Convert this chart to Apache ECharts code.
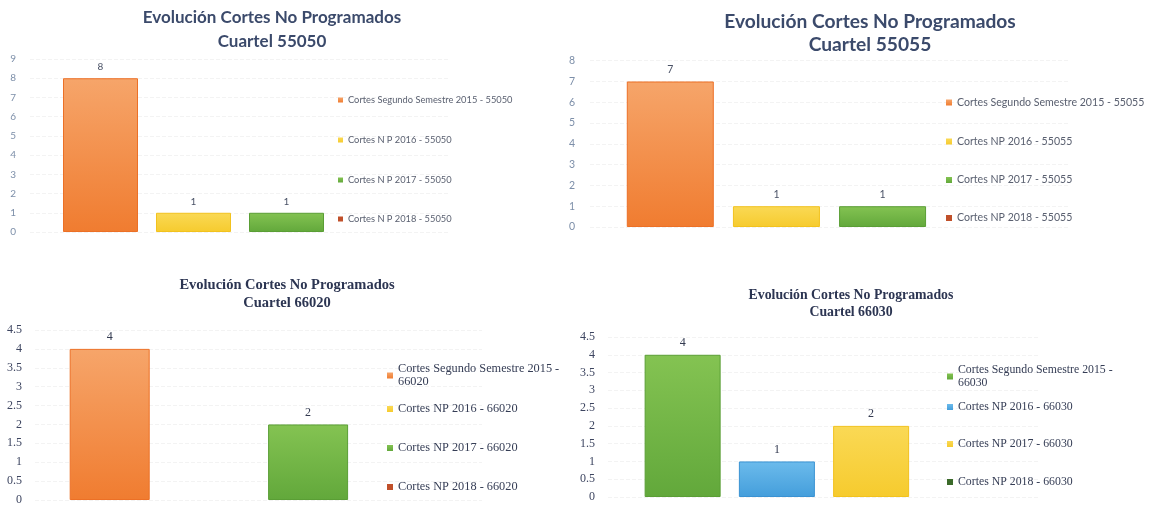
<!DOCTYPE html>
<html><head><meta charset="utf-8">
<script src="https://cdn.jsdelivr.net/npm/echarts@6/dist/echarts.min.js"></script>
<style>html,body{margin:0;padding:0;background:#fff}#c{width:1151px;height:509px}</style>
</head><body><div id="c"></div>
<script>
// ---- data ----
const categories = [''];
const title1 = 'Evolución Cortes No Programados\nCuartel 55050';
const names1 = ['Cortes Segundo Semestre 2015 - 55050', 'Cortes N P 2016 - 55050', 'Cortes N P 2017 - 55050', 'Cortes N P 2018 - 55050'];
const values1 = [8, 1, 1, 0];
const title2 = 'Evolución Cortes No Programados\nCuartel 55055';
const names2 = ['Cortes Segundo Semestre 2015 - 55055', 'Cortes NP 2016 - 55055', 'Cortes NP 2017 - 55055', 'Cortes NP 2018 - 55055'];
const values2 = [7, 1, 1, 0];
const title3 = 'Evolución Cortes No Programados\nCuartel 66020';
const names3 = ['Cortes Segundo Semestre 2015 - 66020', 'Cortes NP 2016 - 66020', 'Cortes NP 2017 - 66020', 'Cortes NP 2018 - 66020'];
const values3 = [4, 0, 2, 0];
const title4 = 'Evolución Cortes No Programados\nCuartel 66030';
const names4 = ['Cortes Segundo Semestre 2015 - 66030', 'Cortes NP 2016 - 66030', 'Cortes NP 2017 - 66030', 'Cortes NP 2018 - 66030'];
const values4 = [4, 1, 2, 0];
const yMax = [9, 8, 4.5, 4.5];
const yInterval = [1, 1, 0.5, 0.5];

// ---- styles ----
function grad(top, bottom) {
  return new echarts.graphic.LinearGradient(0, 0, 0, 1, [{offset: 0, color: top}, {offset: 1, color: bottom}]);
}
const ORANGE = {color: grad('#f6a56a', '#f07c30'), borderColor: '#ec7026', borderWidth: 1};
const YELLOW = {color: grad('#fad955', '#f6cb2e'), borderColor: '#f2c21e', borderWidth: 1};
const GREEN = {color: grad('#84c352', '#62a83b'), borderColor: '#5a9e35', borderWidth: 1};
const BLUE = {color: grad('#6cbbec', '#449edb'), borderColor: '#3a92d2', borderWidth: 1};
const RED = {color: '#c0502a'};
const DKGREEN = {color: '#3b6a2a'};

const charts = [
  {title: title1, names: names1, values: values1, styles: [ORANGE, YELLOW, GREEN, RED],
   grid: {left: 30, top: 59, width: 420, height: 173}, margin: 14, barWidth: 75, barGap: '24%',
   sans: true, axisFont: 10, axisColor: '#7d8fa9', valFont: 10,
   tFont: 17, tLH: 24, tLeft: 272, tTop: 5.5,
   legLeft: 338, legW: 5, legFont: 9.3, legLH: 12, legTops: [94, 134, 174, 213]},
  {title: title2, names: names2, values: values2, styles: [ORANGE, YELLOW, GREEN, RED],
   grid: {left: 590, top: 60.7, width: 479, height: 166.3}, margin: 15, barWidth: 87, barGap: '22%',
   sans: true, axisFont: 10.5, axisColor: '#7d8fa9', valFont: 10.5,
   tFont: 19.2, tLH: 23.5, tLeft: 870, tTop: 10,
   legLeft: 946, legW: 6, legFont: 10.6, legLH: 13, legTops: [96, 135, 173.5, 211.5]},
  {title: title3, names: names3, values: values3, styles: [ORANGE, YELLOW, GREEN, RED],
   grid: {left: 35, top: 330, width: 447, height: 170}, margin: 13, barWidth: 80, barGap: '24%',
   sans: false, axisFont: 12, axisColor: '#3d4560', valFont: 12,
   tFont: 14.5, tLH: 18, tLeft: 287, tTop: 276,
   legLeft: 387, legW: 6, legFont: 12.3, legLH: 13, legTops: [362.5, 402.5, 441.5, 480.5], wrapFirst: true},
  {title: title4, names: names4, values: values4, styles: [GREEN, BLUE, YELLOW, DKGREEN],
   grid: {left: 608, top: 337, width: 432, height: 160}, margin: 13, barWidth: 76, barGap: '24%',
   sans: false, axisFont: 12, axisColor: '#3d4560', valFont: 12,
   tFont: 13.8, tLH: 17, tLeft: 851, tTop: 286.5,
   legLeft: 947, legW: 6, legFont: 11.8, legLH: 13, legTops: [363.5, 400.5, 437.5, 475.5], wrapFirst: true}
];

const SANS = 'Lato, "Open Sans", sans-serif';
const SERIF = '"Liberation Serif", "DejaVu Serif", serif';

const option = {animation: false, backgroundColor: '#ffffff',
  title: [], grid: [], xAxis: [], yAxis: [], series: [], legend: []};

charts.forEach((c, ci) => {
  const font = c.sans ? SANS : SERIF;
  option.title.push({text: c.title, left: c.tLeft, top: c.tTop, textAlign: 'center', padding: 0,
    textStyle: {fontFamily: font, fontWeight: 'bold', fontSize: c.tFont, lineHeight: c.tLH,
      color: c.sans ? '#3b4a6b' : '#2c3552'}});
  option.grid.push(Object.assign({outerBoundsMode: 'none', containLabel: false}, c.grid));
  option.xAxis.push({type: 'category', gridIndex: ci, data: categories,
    axisLine: {show: false}, axisTick: {show: false}, axisLabel: {show: false}, splitLine: {show: false}});
  option.yAxis.push({type: 'value', gridIndex: ci, min: 0, max: yMax[ci], interval: yInterval[ci],
    axisLine: {show: false}, axisTick: {show: false},
    axisLabel: {margin: c.margin, fontFamily: font, fontSize: c.axisFont, color: c.axisColor},
    splitLine: {show: true, lineStyle: {color: '#f3f3f3', type: 'dashed', width: 1}}});
  c.names.forEach((n, i) => {
    const v = c.values[i];
    option.series.push({type: 'bar', name: n, xAxisIndex: ci, yAxisIndex: ci,
      data: [{value: v, itemStyle: v === 0 ? {borderWidth: 0, opacity: 0} : {}}],
      barWidth: c.barWidth, barGap: c.barGap,
      itemStyle: c.styles[i],
      label: {show: true, position: 'top', distance: 6, fontFamily: font, fontSize: c.valFont,
        color: c.sans ? '#4a5266' : '#333a50',
        formatter: p => (p.value ? String(p.value) : '')}});
    option.legend.push({data: [n], left: c.legLeft, top: c.legTops[i], padding: 0,
      orient: 'vertical', icon: 'rect', itemWidth: c.legW, itemHeight: c.legW, selectedMode: false,
      itemStyle: {opacity: 1, borderWidth: 0},
      formatter: (name) => (c.wrapFirst && i === 0) ? name.replace(' - ', ' -\n') : name,
      textStyle: {fontFamily: font, fontSize: c.legFont, lineHeight: c.legLH,
        color: c.sans ? '#5a6070' : '#353d55'}});
  });
});

const chart = echarts.init(document.getElementById('c'), null, {renderer: 'canvas'});
chart.setOption(option);
</script>
</body></html>
